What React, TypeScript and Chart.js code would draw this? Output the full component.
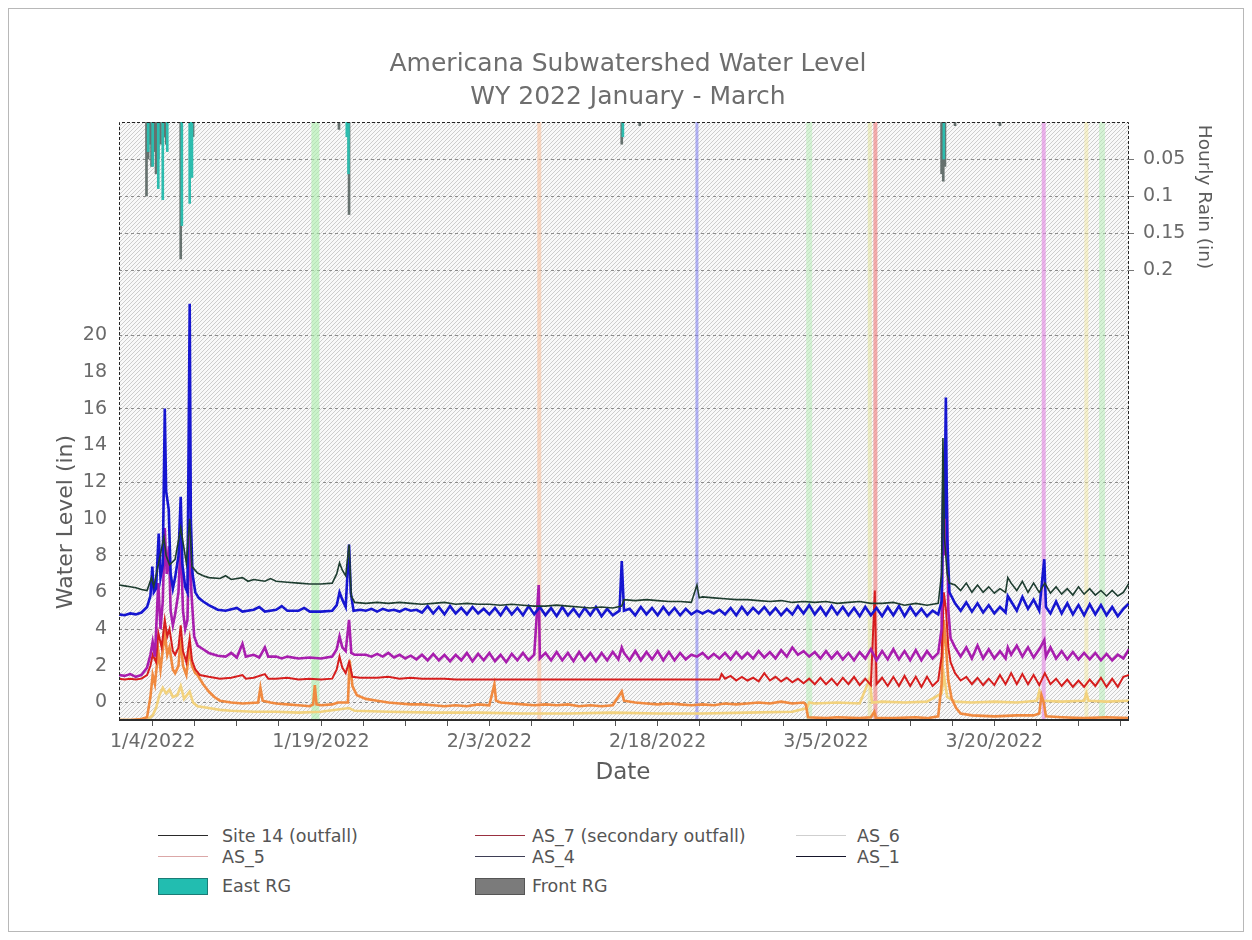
import React, { useEffect, useRef } from "react";
import { Chart, registerables } from "chart.js";

Chart.register(...registerables);

const FONT = "'DejaVu Sans', Verdana, sans-serif";

// ---- axis ticks ----
const xMajorDays = [3, 18, 33, 48, 63, 78];
const xTickLabels = ["1/4/2022", "1/19/2022", "2/3/2022", "2/18/2022", "3/5/2022", "3/20/2022"];
const levelTicks = [0, 2, 4, 6, 8, 10, 12, 14, 16, 18, 20];
const rainTicks = [0.05, 0.1, 0.15, 0.2];
const rainTickLabels = ["0.05", "0.1", "0.15", "0.2"];

// ---- series: [day since Jan 1, water level in] ----
const site14: number[][] = [
  [0, 6.4], [0.5, 6.35], [1, 6.3], [1.5, 6.25], [2, 6.15], [2.5, 6.1], [2.9, 6.8], [3.1, 6.3], [3.5, 7.5], [4.0, 9.0],
  [4.2, 8.0], [4.5, 7.5], [5.0, 7.8], [5.5, 9.5], [6.0, 7.6], [6.3, 10.0], [6.5, 7.4], [7.0, 7.05], [7.5, 6.9], [8.0, 6.8],
  [9, 6.75], [9.5, 6.9], [10, 6.7], [11, 6.8], [11.5, 6.6], [12, 6.7], [13, 6.6], [13.5, 6.75], [14, 6.6], [15, 6.55],
  [16, 6.5], [17, 6.45], [18, 6.45], [19, 6.5], [19.4, 7.0], [19.65, 7.6], [19.9, 7.2], [20.2, 6.9], [20.5, 8.6], [20.7, 5.8],
  [21, 5.45], [22, 5.4], [23, 5.45], [24, 5.4], [25, 5.45], [26, 5.4], [27, 5.35], [28, 5.4], [29, 5.45], [30, 5.35],
  [31, 5.4], [32, 5.35], [33, 5.35], [34, 5.3], [35, 5.35], [36, 5.3], [37, 5.25], [38, 5.25], [39, 5.3], [40, 5.25],
  [41, 5.2], [42, 5.15], [43, 5.2], [44, 5.15], [44.8, 5.25], [45, 5.6], [46, 5.55], [47, 5.6], [48, 5.55], [49, 5.5],
  [50, 5.5], [51, 5.45], [51.5, 6.4], [51.7, 5.7], [52, 5.75], [53, 5.7], [54, 5.65], [55, 5.6], [56, 5.6], [57, 5.55],
  [58, 5.5], [59, 5.55], [60, 5.45], [61, 5.5], [62, 5.45], [63, 5.5], [64, 5.4], [65, 5.45], [66, 5.5], [67, 5.4],
  [68, 5.4], [69, 5.45], [70, 5.3], [71, 5.4], [72, 5.3], [73, 5.4], [73.3, 7.0], [73.42, 14.4], [73.55, 9.0], [73.8, 7.0],
  [74, 6.5], [74.5, 6.4], [75, 6.1], [75.5, 6.5], [76, 6.0], [76.5, 6.4], [77, 6.0], [77.5, 6.3], [78, 5.95], [78.5, 6.2],
  [79, 6.0], [79.2, 6.8], [79.5, 6.5], [80, 6.1], [80.5, 6.6], [81, 6.0], [81.5, 6.5], [82, 6.0], [82.5, 6.5], [83, 5.95],
  [83.5, 6.3], [84, 5.9], [84.5, 6.2], [85, 5.85], [85.5, 6.3], [86, 5.9], [86.5, 6.2], [87, 5.85], [87.5, 6.1], [88, 5.8],
  [88.5, 6.1], [89, 5.8], [89.5, 6.0], [90, 6.5],
];

const as7: number[][] = [
  [0, 1.3], [0.5, 1.25], [1, 1.3], [1.5, 1.25], [2, 1.3], [2.5, 1.5], [2.8, 2.0], [3.0, 2.6], [3.3, 2.2], [3.5, 3.8],
  [3.8, 3.0], [4.08, 4.5], [4.3, 3.6], [4.5, 4.0], [4.8, 2.8], [5.0, 2.6], [5.3, 3.0], [5.5, 4.2], [5.7, 2.8], [6.0, 2.2],
  [6.3, 3.5], [6.5, 2.3], [6.8, 1.8], [7.2, 1.5], [8, 1.4], [9, 1.3], [10, 1.35], [11, 1.5], [11.3, 1.3], [12, 1.35],
  [13, 1.55], [13.3, 1.3], [14, 1.3], [15, 1.35], [16, 1.25], [17, 1.3], [18, 1.25], [19, 1.3], [19.4, 1.8], [19.65, 2.5],
  [19.9, 1.9], [20.2, 1.6], [20.5, 2.2], [20.8, 1.4], [21.5, 1.35], [23, 1.35], [24, 1.4], [25, 1.3], [26, 1.35], [27, 1.3],
  [29, 1.3], [30, 1.25], [47, 1.25], [53.5, 1.25], [53.7, 1.55], [54, 1.3], [54.5, 1.45], [55, 1.2], [55.5, 1.4], [56, 1.2],
  [56.5, 1.35], [57, 1.15], [57.5, 1.6], [58, 1.2], [58.5, 1.4], [59, 1.15], [59.5, 1.35], [60, 1.1], [60.5, 1.3], [61, 1.05],
  [61.5, 1.3], [62, 1.0], [62.5, 1.35], [63, 1.0], [63.5, 1.3], [64, 0.95], [64.5, 1.35], [65, 1.0], [65.5, 1.4], [66, 0.95],
  [66.5, 1.3], [67, 0.95], [67.35, 6.1], [67.5, 1.0], [68, 1.35], [68.5, 0.9], [69, 1.4], [69.5, 0.9], [70, 1.45], [70.5, 0.9],
  [71, 1.4], [71.5, 0.85], [72, 1.4], [72.5, 0.9], [73, 1.2], [73.3, 2.5], [73.5, 6.0], [73.7, 5.0], [73.9, 3.0], [74.1, 2.2],
  [74.5, 1.6], [75, 1.2], [75.5, 1.4], [76, 1.0], [76.5, 1.35], [77, 0.95], [77.5, 1.3], [78, 0.95], [78.5, 1.5], [79, 1.0],
  [79.5, 1.6], [80, 1.0], [80.5, 1.55], [81, 1.0], [81.5, 1.5], [82, 0.95], [82.5, 1.6], [83, 1.0], [83.5, 1.3], [84, 0.9],
  [84.5, 1.25], [85, 0.85], [85.5, 1.2], [86, 0.85], [86.5, 1.25], [87, 0.9], [87.5, 1.35], [88, 0.85], [88.5, 1.3], [89, 0.85],
  [89.5, 1.4], [90, 1.5],
];

const as6: number[][] = [
  [0, -0.95], [2.5, -0.95], [3.0, -0.7], [3.3, -0.3], [3.6, 0.4], [3.9, 0.8], [4.2, 0.5], [4.5, 0.7], [4.8, 0.3], [5.2, 0.4],
  [5.5, 0.9], [5.8, 0.2], [6.3, 0.6], [6.6, 0.0], [7.0, -0.2], [8, -0.3], [9, -0.4], [10, -0.45], [12, -0.5], [14, -0.5],
  [16, -0.55], [18, -0.5], [20.5, -0.3], [21, -0.45], [24, -0.5], [28, -0.55], [32, -0.55], [36, -0.6], [40, -0.6], [44, -0.55],
  [48, -0.6], [52, -0.6], [56, -0.55], [60, -0.5], [61.3, -0.3], [61.5, 0.0], [62, -0.05], [64, 0.0], [66, -0.05], [66.9, 1.3],
  [67.1, 0.0], [68, 0.05], [70, 0.0], [72, 0.05], [73.3, 0.5], [73.5, 1.5], [73.8, 0.3], [74.5, 0.05], [76, 0.0], [78, 0.05],
  [80, 0.0], [81.8, 0.1], [82, 0.6], [82.2, 0.1], [84, 0.05], [86, 0.1], [86.2, 0.5], [86.4, 0.1], [88, 0.05], [90, 0.1],
];

const as5: number[][] = [
  [0, -0.95], [1, -0.95], [2, -0.9], [2.5, -0.8], [2.8, 0.3], [3.0, 1.5], [3.2, 1.0], [3.5, 2.8], [3.7, 1.8], [4.08, 3.8],
  [4.3, 2.6], [4.5, 3.0], [4.8, 1.8], [5.0, 1.6], [5.3, 2.0], [5.5, 3.5], [5.7, 2.0], [6.0, 1.5], [6.3, 3.0], [6.5, 2.0],
  [6.8, 1.6], [7.0, 1.5], [7.5, 1.0], [8.0, 0.6], [8.5, 0.3], [9.0, 0.1], [10, 0.0], [11, -0.05], [12.4, 0.0], [12.6, 0.8],
  [12.8, 0.1], [13.5, 0.0], [14, -0.05], [15, -0.1], [16, -0.15], [17, -0.2], [17.3, -0.1], [17.45, 0.95], [17.6, -0.1], [18, -0.15],
  [19, -0.1], [19.5, 0.0], [20.4, 0.0], [20.55, 2.3], [20.8, 0.9], [21.2, 0.4], [22, 0.2], [23, 0.1], [24, 0.0], [25, -0.05],
  [26, -0.1], [27, -0.1], [28, -0.15], [29, -0.2], [30, -0.15], [31, -0.2], [32, -0.1], [33, -0.15], [33.45, 1.0], [33.6, 0.1],
  [34, 0.0], [35, -0.05], [36, -0.1], [37, -0.15], [38, -0.1], [39, -0.15], [40, -0.1], [41, -0.2], [42, -0.15], [43, -0.2],
  [44, -0.15], [44.8, 0.6], [45, 0.1], [46, 0.0], [47, -0.05], [48, -0.1], [49, -0.05], [50, -0.1], [51, -0.15], [52, -0.1],
  [53, -0.15], [54, -0.05], [55, -0.1], [56, -0.05], [57, 0.0], [58, -0.05], [59, 0.05], [60, -0.05], [61, 0.0], [61.2, -0.1],
  [61.4, -0.8], [63, -0.85], [64, -0.8], [66, -0.85], [67, -0.8], [67.3, -0.5], [67.45, -0.85], [69, -0.85], [71, -0.8], [72, -0.85],
  [73, -0.75], [73.3, 1.0], [73.5, 4.5], [73.7, 3.0], [73.9, 1.2], [74.2, 0.2], [74.6, -0.3], [75, -0.6], [76, -0.7], [78, -0.75],
  [80, -0.7], [81.5, -0.7], [82, -0.6], [82.2, 0.4], [82.4, 0.0], [82.6, -0.75], [84, -0.8], [86, -0.85], [88, -0.8], [90, -0.85],
];

const as4: number[][] = [
  [0, 1.5], [0.5, 1.45], [1, 1.55], [1.5, 1.4], [2, 1.5], [2.5, 1.9], [2.8, 2.6], [3.0, 3.3], [3.2, 2.5], [3.5, 6.5],
  [3.7, 4.0], [3.9, 5.5], [4.08, 9.5], [4.25, 7.0], [4.45, 8.5], [4.6, 5.0], [4.8, 4.2], [5.0, 4.8], [5.3, 6.0], [5.5, 9.0],
  [5.7, 5.0], [5.9, 4.0], [6.1, 4.5], [6.3, 10.0], [6.45, 6.0], [6.7, 3.6], [7.0, 3.1], [7.5, 2.9], [8.0, 2.7], [8.8, 2.55],
  [9.5, 2.5], [10, 2.7], [10.5, 2.45], [11, 3.2], [11.3, 2.5], [12, 2.6], [12.5, 2.45], [13, 3.0], [13.3, 2.5], [14, 2.5],
  [14.5, 2.4], [15, 2.5], [16, 2.4], [17, 2.45], [18, 2.4], [19, 2.5], [19.4, 2.9], [19.65, 3.6], [19.9, 3.0], [20.2, 2.8],
  [20.5, 4.5], [20.7, 2.7], [21, 2.6], [22, 2.6], [22.5, 2.5], [23, 2.65], [23.5, 2.5], [24, 2.7], [24.5, 2.45], [25, 2.6],
  [25.5, 2.4], [26, 2.55], [26.5, 2.35], [27, 2.6], [27.5, 2.3], [28, 2.65], [28.5, 2.3], [29, 2.6], [29.5, 2.25], [30, 2.6],
  [30.5, 2.3], [31, 2.7], [31.5, 2.25], [32, 2.65], [32.5, 2.3], [33, 2.7], [33.5, 2.25], [34, 2.6], [34.5, 2.2], [35, 2.65],
  [35.5, 2.3], [36, 2.7], [36.5, 2.3], [37, 2.6], [37.4, 6.4], [37.5, 2.4], [38, 2.7], [38.5, 2.3], [39, 2.75], [39.5, 2.3],
  [40, 2.7], [40.5, 2.25], [41, 2.75], [41.5, 2.3], [42, 2.7], [42.5, 2.25], [43, 2.7], [43.5, 2.3], [44, 2.75], [44.5, 2.35],
  [44.8, 3.0], [45, 2.7], [45.5, 2.3], [46, 2.8], [46.5, 2.3], [47, 2.75], [47.5, 2.35], [48, 2.8], [48.5, 2.3], [49, 2.75],
  [49.5, 2.3], [50, 2.7], [50.5, 2.35], [51, 2.6], [51.5, 2.5], [52, 2.7], [52.5, 2.4], [53, 2.65], [53.5, 2.4], [54, 2.7],
  [54.5, 2.35], [55, 2.75], [55.5, 2.4], [56, 2.7], [56.5, 2.4], [57, 2.8], [57.5, 2.45], [58, 2.75], [58.5, 2.4], [59, 2.85],
  [59.5, 2.5], [60, 3.0], [60.5, 2.6], [61, 2.8], [61.5, 2.5], [62, 2.75], [62.5, 2.4], [63, 2.8], [63.5, 2.4], [64, 2.75],
  [64.5, 2.35], [65, 2.7], [65.5, 2.3], [66, 2.75], [66.5, 2.4], [67, 2.9], [67.5, 2.3], [68, 2.8], [68.5, 2.35], [69, 2.9],
  [69.5, 2.35], [70, 2.8], [70.5, 2.3], [71, 2.85], [71.5, 2.3], [72, 2.8], [72.5, 2.4], [73, 2.7], [73.3, 4.0], [73.45, 11.5],
  [73.6, 8.0], [73.75, 11.8], [73.9, 5.0], [74.1, 3.5], [74.5, 3.0], [75, 2.5], [75.5, 3.0], [76, 2.4], [76.5, 3.1], [77, 2.4],
  [77.5, 2.9], [78, 2.4], [78.5, 2.8], [79, 2.4], [79.2, 3.0], [79.5, 2.6], [80, 3.1], [80.5, 2.5], [81, 3.0], [81.5, 2.45],
  [82, 2.9], [82.45, 3.4], [82.6, 2.5], [83, 3.0], [83.5, 2.4], [84, 2.8], [84.5, 2.35], [85, 2.75], [85.5, 2.35], [86, 2.7],
  [86.5, 2.35], [87, 2.7], [87.5, 2.3], [88, 2.65], [88.5, 2.3], [89, 2.6], [89.5, 2.4], [90, 2.9],
];

const as1: number[][] = [
  [0, 4.8], [0.5, 4.75], [1, 4.85], [1.5, 4.8], [2, 4.9], [2.5, 5.2], [2.8, 5.8], [2.97, 7.4], [3.1, 6.0], [3.3, 6.2],
  [3.54, 9.2], [3.7, 6.8], [3.9, 7.5], [4.08, 16.0], [4.2, 11.5], [4.43, 10.5], [4.6, 7.0], [4.8, 6.2], [5.0, 6.8], [5.3, 8.0],
  [5.5, 11.2], [5.65, 7.5], [5.9, 6.3], [6.1, 6.0], [6.3, 21.7], [6.4, 10.0], [6.55, 7.0], [6.8, 6.0], [7.1, 5.7], [7.5, 5.5],
  [8.0, 5.3], [8.8, 5.05], [9.5, 5.0], [10.5, 5.15], [11, 4.95], [12, 5.05], [12.5, 5.2], [13, 4.95], [14, 5.05], [14.5, 5.25],
  [15, 5.0], [16, 5.0], [16.5, 5.15], [17, 4.95], [18, 4.95], [19, 5.0], [19.4, 5.3], [19.65, 6.0], [19.9, 5.6], [20.2, 5.2],
  [20.5, 8.6], [20.65, 6.0], [20.9, 5.0], [21.5, 5.05], [22, 5.0], [22.5, 5.1], [23, 4.95], [23.5, 5.1], [24, 5.0], [24.5, 5.05],
  [25, 4.95], [25.5, 5.1], [26, 5.0], [26.5, 5.05], [27, 4.9], [27.5, 5.25], [28, 4.85], [28.5, 5.2], [29, 4.8], [29.5, 5.25],
  [30, 4.85], [30.5, 5.15], [31, 4.8], [31.5, 5.2], [32, 4.85], [32.5, 5.1], [33, 4.8], [33.5, 5.15], [34, 4.75], [34.5, 5.2],
  [35, 4.8], [35.5, 5.15], [36, 4.75], [36.5, 5.25], [37, 4.8], [37.5, 5.2], [38, 4.75], [38.5, 5.15], [39, 4.7], [39.5, 5.2],
  [40, 4.75], [40.5, 5.1], [41, 4.7], [41.5, 5.15], [42, 4.75], [42.5, 5.2], [43, 4.7], [43.5, 5.1], [44, 4.75], [44.6, 5.0],
  [44.8, 7.7], [45, 5.0], [45.5, 5.1], [46, 4.75], [46.5, 5.2], [47, 4.8], [47.5, 5.15], [48, 4.75], [48.5, 5.2], [49, 4.8],
  [49.5, 5.15], [50, 4.75], [50.5, 5.1], [51, 4.8], [51.5, 5.0], [52, 4.85], [52.5, 5.0], [53, 4.85], [53.5, 5.05], [54, 4.8],
  [54.5, 5.15], [55, 4.75], [55.5, 5.2], [56, 4.8], [56.5, 5.15], [57, 4.85], [57.5, 5.2], [58, 4.8], [58.5, 5.15], [59, 4.75],
  [59.5, 5.1], [60, 4.8], [60.5, 5.25], [61, 4.85], [61.5, 5.3], [62, 4.8], [62.5, 5.2], [63, 4.75], [63.5, 5.25], [64, 4.8],
  [64.5, 5.2], [65, 4.75], [65.5, 5.15], [66, 4.7], [66.5, 5.2], [67, 4.75], [67.5, 5.15], [68, 4.7], [68.5, 5.2], [69, 4.75],
  [69.5, 5.25], [70, 4.7], [70.5, 5.2], [71, 4.75], [71.5, 5.1], [72, 4.7], [72.5, 5.0], [73, 4.8], [73.3, 5.5], [73.45, 12.0],
  [73.55, 10.0], [73.68, 16.6], [73.8, 9.0], [74, 6.0], [74.5, 5.4], [75, 5.0], [75.5, 5.45], [76, 4.95], [76.5, 5.4], [77, 4.9],
  [77.5, 5.3], [78, 4.85], [78.5, 5.2], [79, 4.9], [79.2, 5.8], [79.5, 5.5], [80, 5.0], [80.5, 5.75], [81, 5.1], [81.5, 5.6],
  [82, 5.0], [82.45, 7.8], [82.6, 5.2], [83, 4.85], [83.5, 5.5], [84, 4.85], [84.5, 5.4], [85, 4.8], [85.5, 5.3], [86, 4.75],
  [86.5, 5.35], [87, 4.8], [87.5, 5.3], [88, 4.75], [88.5, 5.2], [89, 4.7], [89.5, 5.1], [90, 5.4],
];

// ---- hourly rain: [day, inches] ----
const eastRG: number[][] = [
  [2.6, 0.04], [3.0, 0.06], [3.5, 0.09], [3.9, 0.105], [4.3, 0.04], [5.6, 0.14], [6.3, 0.11], [6.5, 0.075],
  [20.3, 0.02], [20.45, 0.07], [44.9, 0.02], [73.5, 0.05],
];
const frontRG: number[][] = [
  [2.45, 0.1], [2.6, 0.05], [2.75, 0.03], [2.9, 0.06], [3.1, 0.04], [3.3, 0.07], [3.5, 0.05], [3.7, 0.03], [4.0, 0.02],
  [4.2, 0.03], [5.5, 0.185], [6.6, 0.02], [19.6, 0.01], [20.5, 0.125], [44.8, 0.03], [46.4, 0.005], [73.3, 0.07],
  [73.45, 0.08], [73.6, 0.06], [74.5, 0.005], [78.5, 0.005],
];

// ---- full-height event markers (day) ----
const markerDays = [17.5, 37.45, 51.5, 61.5, 66.9, 67.4, 82.4, 86.2, 87.6];

// ---- styles ----
const markerStyles = [
  { color: "rgba(170,238,170,0.6)", width: 8 },
  { color: "rgba(250,195,160,0.6)", width: 4 },
  { color: "rgba(130,130,240,0.6)", width: 3 },
  { color: "rgba(180,238,180,0.5)", width: 6 },
  { color: "rgba(225,228,150,0.5)", width: 4 },
  { color: "rgba(240,130,130,0.65)", width: 4 },
  { color: "rgba(228,140,228,0.65)", width: 4 },
  { color: "rgba(242,232,160,0.5)", width: 4 },
  { color: "rgba(180,238,180,0.5)", width: 6 },
];

const seriesDefs = [
  { label: "Site 14 (outfall)", data: site14, color: "#1e3d30", width: 1.6, order: 1 },
  { label: "AS_1", data: as1, color: "#1616d0", width: 2.6, order: 2 },
  { label: "AS_4", data: as4, color: "#a81eae", width: 2.6, order: 3 },
  { label: "AS_7 (secondary outfall)", data: as7, color: "#d61e1e", width: 2.0, order: 4 },
  { label: "AS_5", data: as5, color: "#f08a40", width: 2.6, order: 5 },
  { label: "AS_6", data: as6, color: "#f2d27e", width: 2.6, order: 6 },
];

const legendItems = [
  { label: "Site 14 (outfall)", kind: "line", color: "#2a2a2a" },
  { label: "AS_7 (secondary outfall)", kind: "line", color: "#9a3040" },
  { label: "AS_6", kind: "line", color: "#cfcfcf" },
  { label: "AS_5", kind: "line", color: "#dba7a7" },
  { label: "AS_4", kind: "line", color: "#3e3e55" },
  { label: "AS_1", kind: "line", color: "#15152a" },
  { label: "East RG", kind: "box", color: "#22bdb0", border: "#1b7c76" },
  { label: "Front RG", kind: "box", color: "#7b7b7b", border: "#555555" },
];

const TEXT = "#6a6a6a";

function makeHatch(ctx: CanvasRenderingContext2D) {
  const c = document.createElement("canvas");
  c.width = 4;
  c.height = 4;
  const g = c.getContext("2d")!;
  g.fillStyle = "#f9f9f9";
  g.fillRect(0, 0, 4, 4);
  for (let i = 0; i < 4; i++) {
    g.fillStyle = "#cdcdcd";
    g.fillRect(i, 3 - i, 1, 1);
  }
  return ctx.createPattern(c, "repeat")!;
}

export default function App() {
  const ref = useRef<HTMLCanvasElement>(null);

  useEffect(() => {
    const canvas = ref.current!;
    const ctx = canvas.getContext("2d")!;
    const hatch = makeHatch(ctx);

    const hatchPlugin = {
      id: "hatchBg",
      beforeDraw(chart: any) {
        const { left, top, width, height } = chart.chartArea;
        const c = chart.ctx;
        c.save();
        c.fillStyle = hatch;
        c.fillRect(left, top, width, height);
        c.restore();
      },
    };

    const markerPlugin = {
      id: "markers",
      beforeDatasetsDraw(chart: any) {
        const { top, bottom } = chart.chartArea;
        const c = chart.ctx;
        const xs = chart.scales.x;
        c.save();
        markerDays.forEach((d, i) => {
          const st = markerStyles[i];
          const px = xs.getPixelForValue(d);
          c.fillStyle = st.color;
          c.fillRect(px - st.width / 2, top, st.width, bottom - top);
        });
        c.restore();
      },
    };

    const framePlugin = {
      id: "frame",
      afterDatasetsDraw(chart: any) {
        const { left, top, right, bottom } = chart.chartArea;
        const c = chart.ctx;
        c.save();
        c.strokeStyle = "#222";
        c.lineWidth = 1;
        c.setLineDash([3, 2]);
        c.beginPath();
        c.moveTo(left + 0.5, bottom);
        c.lineTo(left + 0.5, top + 0.5);
        c.lineTo(right - 0.5, top + 0.5);
        c.lineTo(right - 0.5, bottom);
        c.stroke();
        c.setLineDash([]);
        c.lineWidth = 2;
        c.strokeStyle = "#2a2a2a";
        c.beginPath();
        c.moveTo(left, bottom);
        c.lineTo(right, bottom);
        c.stroke();
        c.restore();
      },
    };

    const lineSets = seriesDefs.map((s) => ({
      type: "line" as const,
      label: s.label,
      data: s.data.map(([x, y]) => ({ x, y })),
      borderColor: s.color,
      backgroundColor: s.color,
      borderWidth: s.width,
      pointRadius: 0,
      tension: 0,
      yAxisID: "y",
      order: s.order,
    }));

    const rainSets = [
      { label: "East RG", data: eastRG, color: "#2dbcae" },
      { label: "Front RG", data: frontRG, color: "#66716e" },
    ].map((r) => ({
      type: "bar" as const,
      label: r.label,
      data: r.data.map(([x, y]) => ({ x, y })),
      backgroundColor: r.color,
      borderWidth: 0,
      barThickness: 2,
      grouped: false,
      yAxisID: "y2",
      order: 0,
    }));

    const chart = new Chart(ctx, {
      type: "line",
      data: { datasets: [...lineSets, ...rainSets] as any },
      options: {
        animation: false,
        responsive: false,
        devicePixelRatio: 1,
        layout: { padding: { top: 113, left: 0, right: 0, bottom: 0 } },
        plugins: { legend: { display: false }, tooltip: { enabled: false }, title: { display: false } },
        scales: {
          x: {
            type: "linear",
            position: "bottom",
            min: 0,
            max: 90,
            offset: false,
            afterBuildTicks: (s: any) => {
              const t: any[] = [];
              for (let v = xMajorDays[0]; v <= 90; v += (xMajorDays[1] - xMajorDays[0]) / 4) t.push({ value: v });
              s.ticks = t;
            },
            afterFit: (s: any) => {
              s.height = 79;
            },
            ticks: {
              autoSkip: false,
              maxRotation: 0,
              padding: 5,
              color: TEXT,
              font: { family: FONT, size: 19 },
              callback: (v: any) => {
                const i = xMajorDays.findIndex((d) => Math.abs(d - Number(v)) < 1e-6);
                return i >= 0 ? xTickLabels[i] : "";
              },
            },
            grid: { drawOnChartArea: false, drawTicks: true, tickLength: 6, tickColor: "#555", offset: false },
            border: { display: false },
          },
          y: {
            type: "linear",
            position: "left",
            min: -0.95,
            max: 31.6,
            afterBuildTicks: (s: any) => {
              s.ticks = levelTicks.map((v) => ({ value: v }));
            },
            afterFit: (s: any) => {
              s.width = 110;
            },
            ticks: { padding: 12, color: TEXT, font: { family: FONT, size: 19 } },
            grid: {
              drawTicks: false,
              color: (c: any) => (c.tick && c.tick.value % 4 === 0 ? "#8c8c8c" : "rgba(0,0,0,0)"),
              lineWidth: 1,
            },
            border: { display: false, dash: [3, 3] },
          },
          y2: {
            type: "linear",
            position: "right",
            reverse: true,
            min: 0,
            max: 0.808,
            afterBuildTicks: (s: any) => {
              s.ticks = rainTicks.map((v) => ({ value: v }));
            },
            afterFit: (s: any) => {
              s.width = 114;
            },
            ticks: {
              padding: 9,
              color: TEXT,
              font: { family: FONT, size: 19 },
              callback: (v: any) => {
                const i = rainTicks.findIndex((d) => Math.abs(d - Number(v)) < 1e-9);
                return i >= 0 ? rainTickLabels[i] : "";
              },
            },
            grid: { drawTicks: true, tickLength: 5, tickColor: "#777", color: "#8c8c8c", lineWidth: 1 },
            border: { display: false, dash: [3, 3] },
          },
        },
      },
      plugins: [hatchPlugin, markerPlugin, framePlugin],
    } as any);

    return () => chart.destroy();
  }, []);

  const rowY = [827, 848, 877];
  const colX = [149, 466, 787];
  const textX = [213, 523, 848];

  return (
    <div
      style={{
        position: "relative",
        width: 1234,
        height: 922,
        border: "1px solid #b8b8b8",
        background: "#fff",
        fontFamily: FONT,
      }}
    >
      <canvas ref={ref} width={1234} height={790} style={{ position: "absolute", left: 0, top: 0, width: 1234, height: 790 }} />
      <div
        style={{
          position: "absolute",
          left: 219,
          width: 800,
          top: 37,
          textAlign: "center",
          fontSize: 25,
          lineHeight: "33px",
          color: "#6e6e6e",
        }}
      >
        <div>Americana Subwatershed Water Level</div>
        <div>WY 2022 January - March</div>
      </div>
      <div
        style={{
          position: "absolute",
          left: 514,
          width: 200,
          top: 748,
          textAlign: "center",
          fontSize: 23,
          lineHeight: "28px",
          color: "#5c5c5c",
        }}
      >
        Date
      </div>
      <div
        style={{
          position: "absolute",
          left: 56 - 150,
          top: 513 - 14,
          width: 300,
          height: 28,
          lineHeight: "28px",
          textAlign: "center",
          fontSize: 22,
          color: "#5c5c5c",
          transform: "rotate(-90deg)",
        }}
      >
        Water Level (in)
      </div>
      <div
        style={{
          position: "absolute",
          left: 1196 - 100,
          top: 188 - 12,
          width: 200,
          height: 24,
          lineHeight: "24px",
          textAlign: "center",
          fontSize: 18.5,
          color: "#5c5c5c",
          transform: "rotate(90deg)",
        }}
      >
        Hourly Rain (in)
      </div>
      {legendItems.map((it, i) => {
        const row = Math.floor(i / 3);
        const col = i % 3;
        const cy = rowY[row];
        return (
          <React.Fragment key={it.label}>
            {it.kind === "line" ? (
              <div
                style={{
                  position: "absolute",
                  left: colX[col],
                  top: cy - 1,
                  width: 50,
                  height: 0,
                  borderTop: `1.5px solid ${it.color}`,
                }}
              />
            ) : (
              <div
                style={{
                  position: "absolute",
                  left: colX[col],
                  top: cy - 8,
                  width: 48,
                  height: 15,
                  background: it.color,
                  border: `1px solid ${(it as any).border}`,
                }}
              />
            )}
            <div
              style={{
                position: "absolute",
                left: textX[col],
                top: cy - 12,
                height: 24,
                lineHeight: "24px",
                fontSize: 17.5,
                color: "#555",
                whiteSpace: "nowrap",
              }}
            >
              {it.label}
            </div>
          </React.Fragment>
        );
      })}
    </div>
  );
}
